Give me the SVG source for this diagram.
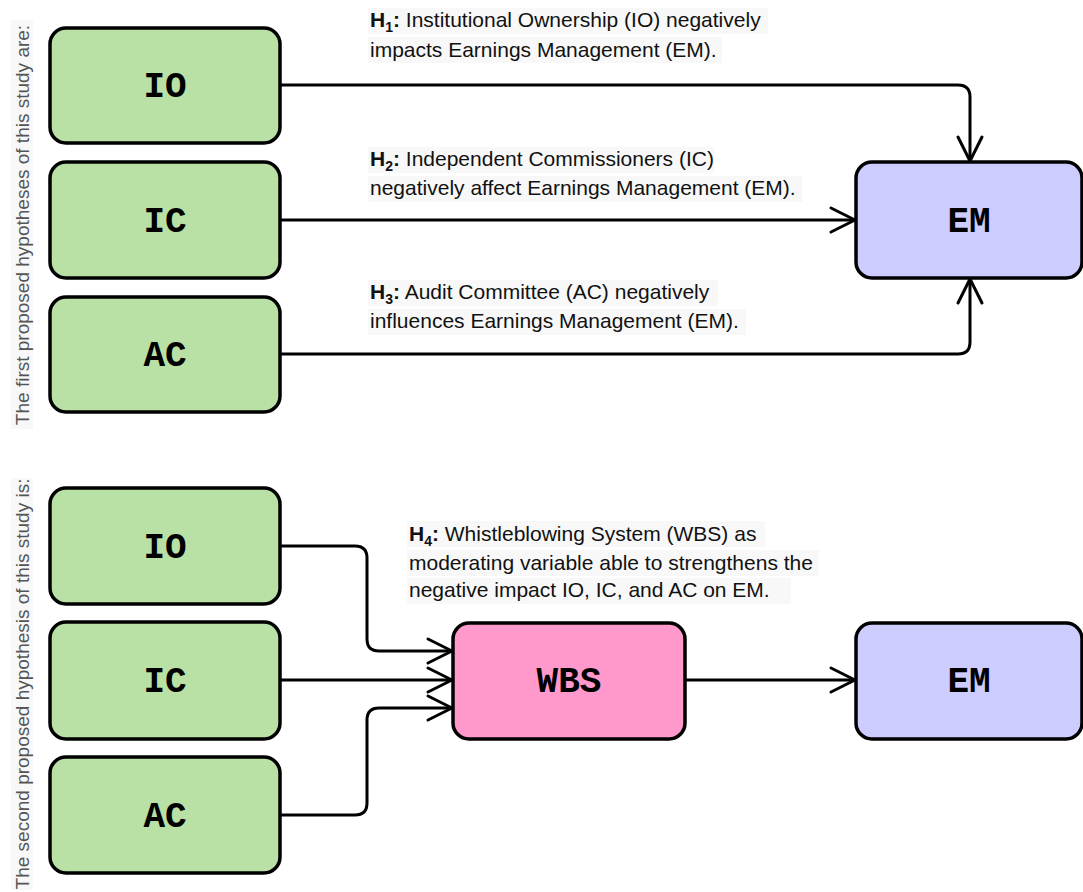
<svg xmlns="http://www.w3.org/2000/svg" width="1083" height="892" viewBox="0 0 1083 892">
<style>
.box{stroke:#000;stroke-width:3.5}
.g{fill:#b9e0a5}
.p{fill:#ccccff}
.k{fill:#ff99cc}
.lbl{font-family:"Liberation Mono","Courier New",monospace;font-weight:bold;font-size:36px;fill:#000;text-anchor:middle}
.hyp{font-family:"Liberation Sans",Arial,sans-serif;font-size:21px;fill:#111}
.hb{font-weight:bold}
.sub{font-weight:bold;font-size:14px}
.side{font-family:"Liberation Sans",Arial,sans-serif;font-size:19px;fill:#555;text-anchor:middle}
.bg{fill:#f8f8f8}
.edge{fill:none;stroke:#000;stroke-width:3;marker-end:url(#arr)}
</style>
<defs>
<marker id="arr" viewBox="-28 -15 32 30" refX="0" refY="0" markerWidth="32" markerHeight="30" markerUnits="userSpaceOnUse" orient="auto">
<path d="M-24,-12 L0,0 L-24,12" fill="none" stroke="#000" stroke-width="3" stroke-linejoin="round" stroke-linecap="round"/>
</marker>
</defs>
<rect width="1083" height="892" fill="#fff"/>

<g id="side-labels">
<rect class="bg" x="11" y="20" width="22" height="409"/>
<text class="side" transform="translate(29,225) rotate(-90)">The first proposed hypotheses of this study are:</text>
<rect class="bg" x="11" y="478" width="22" height="412"/>
<text class="side" transform="translate(29,684) rotate(-90)">The second proposed hypothesis of this study is:</text>
</g>

<g id="hypothesis-labels">
<rect class="bg" x="368" y="8" width="400" height="26"/>
<rect class="bg" x="368" y="37" width="354" height="26"/>
<text class="hyp" x="370" y="27"><tspan class="hb">H</tspan><tspan class="sub" dy="5">1</tspan><tspan class="hb" dy="-5">:</tspan> Institutional Ownership (IO) negatively</text>
<text class="hyp" x="370" y="57">impacts Earnings Management (EM).</text>

<rect class="bg" x="368" y="147" width="346" height="26"/>
<rect class="bg" x="368" y="176" width="434" height="26"/>
<text class="hyp" x="370" y="166"><tspan class="hb">H</tspan><tspan class="sub" dy="5">2</tspan><tspan class="hb" dy="-5">:</tspan> Independent Commissioners (IC)</text>
<text class="hyp" x="370" y="195">negatively affect Earnings Management (EM).</text>

<rect class="bg" x="368" y="280" width="350" height="26"/>
<rect class="bg" x="368" y="309" width="378" height="26"/>
<text class="hyp" x="370" y="299"><tspan class="hb">H</tspan><tspan class="sub" dy="5">3</tspan><tspan class="hb" dy="-5">:</tspan> Audit Committee (AC) negatively</text>
<text class="hyp" x="370" y="328">influences Earnings Management (EM).</text>

<rect class="bg" x="407" y="521" width="358" height="26"/>
<rect class="bg" x="407" y="550" width="412" height="26"/>
<rect class="bg" x="407" y="578" width="384" height="26"/>
<text class="hyp" x="409" y="541"><tspan class="hb">H</tspan><tspan class="sub" dy="5">4</tspan><tspan class="hb" dy="-5">:</tspan> Whistleblowing System (WBS) as</text>
<text class="hyp" x="409" y="570">moderating variable able to strengthens the</text>
<text class="hyp" x="409" y="597">negative impact IO, IC, and AC on EM.</text>
</g>

<g id="connectors">
<path class="edge" d="M281,85 H958 Q970,85 970,97 V161"/>
<path class="edge" d="M281,220 H855"/>
<path class="edge" d="M281,354 H958 Q970,354 970,342 V279"/>
<path class="edge" d="M281,546 H355 Q367,546 367,558 V639 Q367,651 379,651 H452"/>
<path class="edge" d="M281,680 H452"/>
<path class="edge" d="M281,815 H355 Q367,815 367,803 V720 Q367,708 379,708 H452"/>
<path class="edge" d="M686,680 H855"/>
</g>

<g id="node-io1"><rect class="box g" x="50" y="28" width="230" height="115" rx="16"/><text class="lbl" x="165" y="97">IO</text></g>
<g id="node-ic1"><rect class="box g" x="50" y="162" width="230" height="116" rx="16"/><text class="lbl" x="165" y="232">IC</text></g>
<g id="node-ac1"><rect class="box g" x="50" y="297" width="230" height="115" rx="16"/><text class="lbl" x="165" y="366">AC</text></g>
<g id="node-em1"><rect class="box p" x="856" y="162" width="226" height="116" rx="16"/><text class="lbl" x="969" y="232">EM</text></g>

<g id="node-io2"><rect class="box g" x="50" y="488" width="230" height="116" rx="16"/><text class="lbl" x="165" y="558">IO</text></g>
<g id="node-ic2"><rect class="box g" x="50" y="622" width="230" height="117" rx="16"/><text class="lbl" x="165" y="692">IC</text></g>
<g id="node-ac2"><rect class="box g" x="50" y="757" width="230" height="116" rx="16"/><text class="lbl" x="165" y="827">AC</text></g>
<g id="node-wbs"><rect class="box k" x="453" y="623" width="232" height="116" rx="16"/><text class="lbl" x="569" y="692">WBS</text></g>
<g id="node-em2"><rect class="box p" x="856" y="623" width="226" height="116" rx="16"/><text class="lbl" x="969" y="692">EM</text></g>
</svg>
